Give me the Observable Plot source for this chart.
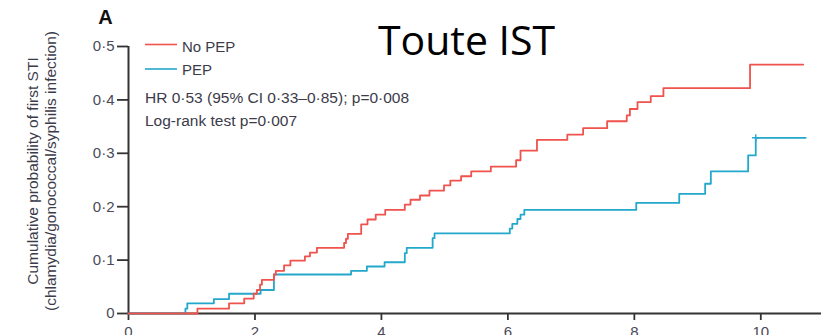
<!DOCTYPE html>
<html><head><meta charset="utf-8">
<script src="https://cdn.jsdelivr.net/npm/d3@7"></script>
<script src="https://cdn.jsdelivr.net/npm/@observablehq/plot@0.6"></script>
<style>body{margin:0;background:#fff} svg{display:block}</style>
</head><body><div id="chart"></div>
<script>
// ---- data ----
const seriesNames = ["No PEP", "PEP"];
const seriesColors = ["#f0524d", "#23a8cb"];
const noPepTime = [0, 1.09, 1.59, 1.83, 1.98, 2.03, 2.08, 2.11, 2.30, 2.33, 2.46, 2.56, 2.79, 2.87, 2.98, 3.41, 3.44, 3.47, 3.68, 3.78, 3.91, 4.06, 4.37, 4.46, 4.61, 4.76, 4.99, 5.09, 5.26, 5.42, 5.73, 6.13, 6.20, 6.46, 6.94, 7.19, 7.57, 7.88, 7.93, 8.05, 8.26, 8.46, 9.83, 10.67];
const noPepProb = [0, 0.009, 0.019, 0.028, 0.037, 0.044, 0.054, 0.063, 0.073, 0.080, 0.090, 0.099, 0.107, 0.114, 0.123, 0.132, 0.140, 0.149, 0.167, 0.176, 0.185, 0.194, 0.204, 0.213, 0.221, 0.230, 0.240, 0.249, 0.257, 0.266, 0.275, 0.287, 0.305, 0.325, 0.335, 0.347, 0.360, 0.371, 0.383, 0.396, 0.407, 0.422, 0.466, 0.466];
const pepTime = [0, 0.90, 0.93, 1.35, 1.59, 2.09, 2.30, 3.52, 3.77, 4.05, 4.37, 4.40, 4.81, 4.84, 6.03, 6.07, 6.15, 6.20, 6.26, 8.03, 8.71, 9.12, 9.21, 9.80, 9.92, 10.71];
const pepProb = [0, 0.009, 0.019, 0.027, 0.037, 0.044, 0.073, 0.080, 0.088, 0.096, 0.113, 0.123, 0.141, 0.150, 0.159, 0.168, 0.177, 0.185, 0.194, 0.207, 0.224, 0.243, 0.266, 0.296, 0.329, 0.329];
const censorTime = [9.92];
const censorProb = [0.329];
const xTicks = [0, 2, 4, 6, 8, 10];
const yTicks = [0, 0.1, 0.2, 0.3, 0.4, 0.5];
const title = "Toute IST";
const panelLabel = "A";
const yLabel1 = "Cumulative probability of first STI";
const yLabel2 = "(chlamydia/gonococcal/syphilis infection)";
const annotation1 = "HR 0·53 (95% CI 0·33–0·85); p=0·008";
const annotation2 = "Log-rank test p=0·007";

// ---- build tables ----
const noPep = noPepTime.map((t, i) => ({t, p: noPepProb[i], group: seriesNames[0]}));
const pep = pepTime.map((t, i) => ({t, p: pepProb[i], group: seriesNames[1]}));
const censor = censorTime.map((t, i) => ({t, p: censorProb[i], group: seriesNames[1]}));
const fmtY = d => d === 0 ? "0" : d3.format(".1f")(d).replace(".", "·");

const textColor = "#3b3b4a";
const tickTextColor = "#4a4a58";
const axisColor = "#333";
const font = "Liberation Sans, Arial, sans-serif";

const legendMark = (index, scales, values, dims) => {
  const g = d3.create("svg:g");
  const rows = [{y: 44.5, ty: 51.5}, {y: 69, ty: 75}];
  seriesNames.forEach((name, i) => {
    g.append("line").attr("x1", 145).attr("x2", 177).attr("y1", rows[i].y).attr("y2", rows[i].y)
      .attr("stroke", seriesColors[i]).attr("stroke-width", 1.6);
    g.append("text").attr("x", 182).attr("y", rows[i].ty).attr("fill", textColor).attr("text-anchor", "start")
      .attr("font-size", 15).attr("font-family", font).text(name);
  });
  g.append("text").attr("x", 145).attr("y", 103).attr("fill", textColor).attr("font-size", 15.5)
    .attr("text-anchor", "start").attr("font-family", font).text(annotation1);
  g.append("text").attr("x", 145).attr("y", 126).attr("fill", textColor).attr("font-size", 15.5)
    .attr("text-anchor", "start").attr("font-family", font).text(annotation2);
  // title and panel label
  g.append("text").attr("x", 466.5).attr("y", 55).attr("text-anchor", "middle").attr("fill", "#000")
    .attr("font-size", 41).attr("font-family", "Open Sans, sans-serif").text(title);
  g.append("text").attr("x", 105.5).attr("y", 23.5).attr("text-anchor", "middle").attr("fill", "#111")
    .attr("font-size", 20).attr("font-weight", "bold").attr("font-family", font).text(panelLabel);
  // y axis label (two lines, rotated)
  [[yLabel1, 38], [yLabel2, 56]].forEach(([txt, x]) => {
    g.append("text").attr("transform", `translate(${x},171) rotate(-90)`).attr("text-anchor", "middle")
      .attr("fill", textColor).attr("font-size", 15.5)
      .attr("font-family", font).text(txt);
  });
  return g.node();
};

const chart = Plot.plot({
  width: 827, height: 335,
  marginLeft: 128, marginRight: 6, marginTop: 46, marginBottom: 22,
  style: {fontFamily: font, background: "#fff"},
  x: {domain: [0, 10.96]},
  y: {domain: [0, 0.5]},
  color: {domain: seriesNames, range: seriesColors},
  marks: [
    Plot.axisX({ticks: xTicks, tickSize: 7, tickPadding: 6, fontSize: 15, stroke: axisColor, fill: tickTextColor, strokeWidth: 1.8, label: null}),
    Plot.axisY({ticks: yTicks, tickFormat: fmtY, tickSize: 11, tickPadding: 3, fontSize: 15, stroke: axisColor, fill: tickTextColor, strokeWidth: 1.8, label: null}),
    Plot.ruleX([0], {stroke: axisColor, strokeWidth: 2}),
    Plot.ruleY([0], {stroke: axisColor, strokeWidth: 2}),
    Plot.line(pep, {x: "t", y: "p", stroke: "group", curve: "step-after", strokeWidth: 1.8}),
    Plot.line(noPep, {x: "t", y: "p", stroke: "group", curve: "step-after", strokeWidth: 1.8}),
    Plot.dot(censor, {x: "t", y: "p", stroke: "group", symbol: "plus", r: 2.5, strokeWidth: 1.4}),
    legendMark
  ]
});
document.getElementById("chart").append(chart);
</script>
</body></html>
